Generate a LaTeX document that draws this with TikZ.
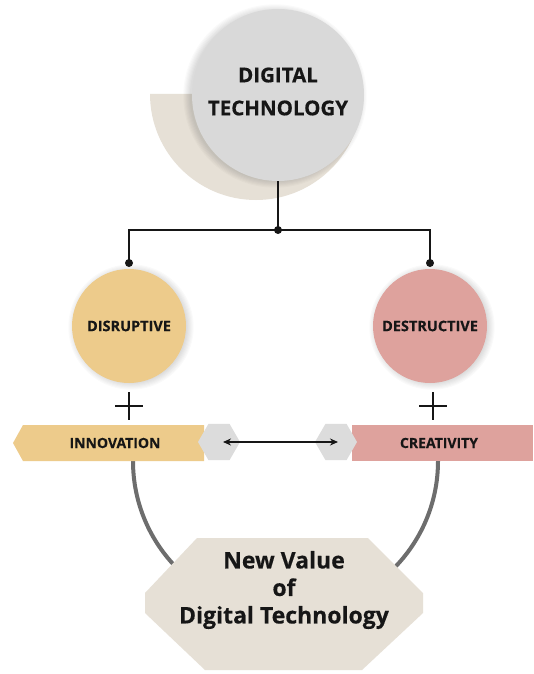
\documentclass[tikz,border=0pt]{standalone}
\usepackage{fontspec}
\setmainfont{Open Sans}[BoldFeatures={FakeBold=0.35}]
\usetikzlibrary{arrows.meta,shapes.geometric}

\definecolor{dtgrey}{HTML}{D9D9D9}
\definecolor{sand}{HTML}{E6E0D6}
\definecolor{gold}{HTML}{EDCB8B}
\definecolor{rose}{HTML}{DEA29D}
\definecolor{hexgrey}{HTML}{DCDCDC}
\definecolor{arcgrey}{HTML}{6D6D6D}
\definecolor{ink}{HTML}{161616}

% soft round shadow: stacked translucent discs
% #1,#2 centre, #3 radius, #4,#5 offset
\newcommand{\softdisc}[5]{%
  \foreach \k in {1,...,7}{
    \fill[black,opacity=0.018] ([shift={(#4,#5)}]#1,#2) circle[radius=#3+\k*1.1pt];
  }}

\begin{document}
\begin{tikzpicture}[x=1pt,y=-1pt,
  topcircle/.style={circle,fill=dtgrey,minimum size=172pt,inner sep=0pt},
  ideacircle/.style={circle,minimum size=114pt,inner sep=0pt,
      text=ink,font=\bfseries\fontsize{14.5}{17}\selectfont},
  bannertext/.style={text=ink,inner sep=0pt,
      font=\bfseries\fontsize{14}{17}\selectfont},
  hexagon/.style={regular polygon,regular polygon sides=6,minimum size=42pt,
      inner sep=0pt,fill=hexgrey},
  wire/.style={line width=1.8pt,ink},
  joint/.style={fill=ink},
  plusline/.style={line width=1.3pt,ink},
  link/.style={line width=1.6pt,ink,
      {Stealth[length=8pt,width=7pt]}-{Stealth[length=8pt,width=7pt]}},
  arcline/.style={line width=4pt,arcgrey},
  valuetext/.style={text=ink,align=center,inner sep=0pt,
      font=\bfseries\fontsize{23}{27.5}\selectfont}]

\useasboundingbox (0,0) rectangle (533,674);
\fill[white] (0,0) rectangle (533,674);

% half disc sitting behind the top circle
\fill[sand] (150,94) arc[start angle=180,end angle=360,radius=106pt] -- cycle;

% top circle with its shadow
\softdisc{278}{95}{84pt}{-3pt}{-1pt}
\node[topcircle] (dt) at (278,95) {};
\node[text=ink,align=center,inner sep=0pt,
      font=\bfseries\fontsize{20.5}{33}\selectfont] (dtlabel) at (278,91.5)
  {DIGITAL\\TECHNOLOGY};

% the two idea circles
\softdisc{129}{326}{55pt}{2pt}{-1pt}
\softdisc{430}{326}{55pt}{2pt}{-1pt}
\node[ideacircle,fill=gold] (dis) at (129,326) {DISRUPTIVE};
\node[ideacircle,fill=rose] (des) at (430,326) {DESTRUCTIVE};

% branching connector
\coordinate (jn) at (278,230);
\coordinate (dL) at (129,263);
\coordinate (dR) at (430,263);
\draw[wire] (dt) -- (jn);
\draw[wire] (dL) |- (jn) -| (dR);
\fill[joint] (jn) circle[radius=4pt];
\fill[joint] (dL) circle[radius=4pt];
\fill[joint] (dR) circle[radius=4pt];

% plus signs
\draw[plusline] (129,392) -- (129,420) (115,406) -- (143,406);
\draw[plusline] (433,392) -- (433,420) (419,406) -- (447,406);

% arc joining the two banners through the value box
\coordinate (aL) at (133,461);
\draw[arcline] (aL) arc[start angle=180,end angle=360,radius=152.5pt];

% banners
\fill[gold] (13,443) -- (23,425) -- (204,425) -- (204,461) -- (23,461) -- cycle;
\node[bannertext] (inn) at (115,443) {INNOVATION};
\fill[rose] (352,425) rectangle (533,461);
\node[bannertext] (cre) at (439,443) {CREATIVITY};

% hexagon caps and the double arrow
\node[hexagon] (hL) at (219,442) {};
\node[hexagon] (hR) at (336,442) {};
\draw[link] ([xshift=4pt]hL.center) -- ([xshift=2pt]hR.center);

% value octagon
\fill[sand] (197,538) -- (368,538) -- (423,593) -- (423,613) -- (362,670)
  -- (205,670) -- (145,613) -- (145,593) -- cycle;
\node[valuetext] (nv) at (284,590) {New Value\\of\\Digital Technology};

\end{tikzpicture}
\end{document}
